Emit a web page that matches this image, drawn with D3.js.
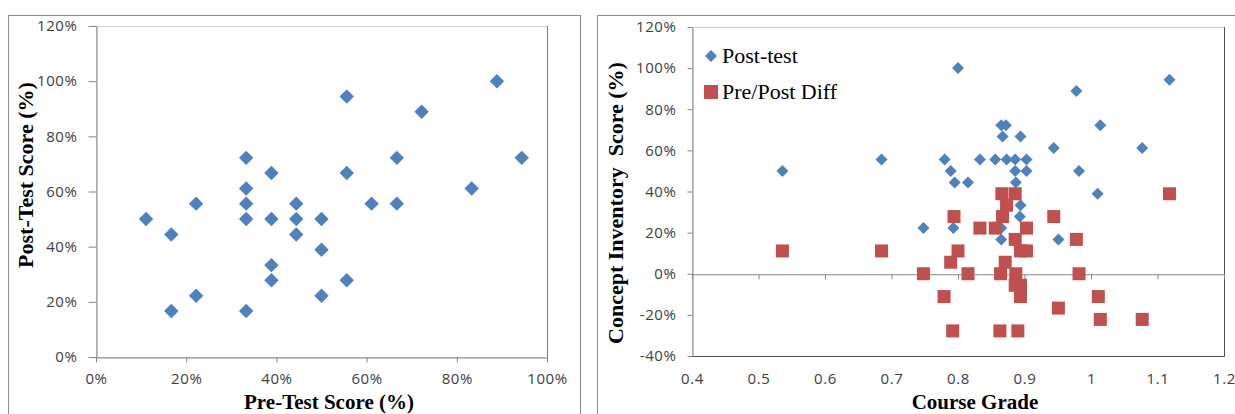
<!DOCTYPE html>
<html>
<head>
<meta charset="utf-8">
<script src="https://cdn.jsdelivr.net/npm/d3@7"></script>
<style>
  body { margin: 0; background: #fff; }
  .tick text { font-family: "Open Sans", sans-serif; font-size: 15px; letter-spacing: 0.6px; fill: #404040; }
  .axis path, .axis line { stroke: #868686; }
  .title { font-family: "Liberation Serif", "Times New Roman", serif; font-weight: bold; font-size: 22px; fill: #000; }
  .xtitle { font-size: 21px; }
  .legend { font-family: "Liberation Serif", "Times New Roman", serif; font-size: 22px; fill: #000; }
</style>
</head>
<body>
<svg id="chart" width="1235" height="414"></svg>
<script>
// left chart: pre-test vs post-test (%)
const preScore  = [11.1, 16.7, 16.7, 22.2, 22.2, 33.3, 33.3, 33.3, 33.3, 33.3, 38.9, 38.9, 38.9, 38.9, 44.4,
                   44.4, 44.4, 50, 50, 50, 55.6, 55.6, 55.6, 61.1, 66.7, 66.7, 72.2, 83.3, 88.9, 94.4];
const postScore = [50, 44.4, 16.7, 55.6, 22.2, 72.2, 61.1, 55.6, 50, 16.7, 66.7, 50, 33.3, 27.8, 55.6,
                   50, 44.4, 50, 38.9, 22.2, 94.4, 66.7, 27.8, 55.6, 72.2, 55.6, 88.9, 61.1, 100, 72.2];

// right chart: course grade vs post-test (%)
const gradePost = [0.536, 0.685, 0.748, 0.780, 0.789, 0.795, 0.793, 0.800, 0.815, 0.833, 0.856, 0.865, 0.872,
                   0.867, 0.873, 0.865, 0.865, 0.886, 0.886, 0.887, 0.894, 0.894, 0.893, 0.903, 0.903, 0.944,
                   0.951, 0.978, 0.982, 1.014, 1.010, 1.077, 1.118];
const postTest  = [50, 55.6, 22.2, 55.6, 50, 44.4, 22.2, 100, 44.4, 55.6, 55.6, 72.2, 72.2,
                   66.7, 55.6, 22.2, 16.7, 55.6, 50, 44.4, 66.7, 33.3, 27.8, 55.6, 50, 61.1,
                   16.7, 88.9, 50, 72.2, 38.9, 61.1, 94.4];

// right chart: course grade vs pre/post difference (%)
const gradeDiff = [0.536, 0.685, 0.748, 0.779, 0.789, 0.794, 0.792, 0.800, 0.815, 0.833, 0.856, 0.864, 0.863,
                   0.867, 0.871, 0.866, 0.886, 0.873, 0.886, 0.887, 0.886, 0.894, 0.894, 0.890, 0.894, 0.903,
                   0.903, 0.944, 0.951, 0.978, 0.982, 1.011, 1.014, 1.077, 1.118];
const prePostDiff = [11.1, 11.1, 0, -11.1, 5.6, 27.8, -27.8, 11.1, 0, 22.2, 22.2, 0, -27.8,
                     27.8, 5.6, 38.9, 38.9, 33.3, 16.7, 0, -5.6, -5.6, -11.1, -27.8, 11.1, 11.1,
                     22.2, 27.8, -16.7, 16.7, 0, -11.1, -22.2, -22.2, 38.9];

const pctTicksLeft  = [0, 20, 40, 60, 80, 100, 120];
const pctTicksX     = [0, 20, 40, 60, 80, 100];
const pctTicksRight = [-40, -20, 0, 20, 40, 60, 80, 100, 120];
const gradeTicks    = [0.4, 0.5, 0.6, 0.7, 0.8, 0.9, 1.0, 1.1, 1.2];
const legendNames   = ["Post-test", "Pre/Post Diff"];

const blue = "#4F81BD", red = "#C0504D";
const svg = d3.select("#chart");
const pct = d => d + "%";
const diamond = size => d3.symbol(d3.symbolSquare, size)();

// outer chart frames
svg.append("rect").attr("x", 8.5).attr("y", 15.5).attr("width", 572).attr("height", 420)
  .attr("fill", "none").attr("stroke", "#8a8a8a");
svg.append("rect").attr("x", 597.5).attr("y", 15.5).attr("width", 700).attr("height", 420)
  .attr("fill", "none").attr("stroke", "#8a8a8a");

// ---------- left chart ----------
const L = { x0: 96, x1: 547, y0: 26, y1: 357 };
const xL = d3.scaleLinear().domain([0, 100]).range([L.x0, L.x1]);
const yL = d3.scaleLinear().domain([0, 120]).range([L.y1, L.y0]);

svg.append("rect").attr("x", L.x0 + 0.5).attr("y", L.y0 + 0.5)
  .attr("width", L.x1 - L.x0).attr("height", L.y1 - L.y0)
  .attr("fill", "none").attr("stroke", "#d0d0d0");
svg.append("line").attr("x1", L.x1 + 0.5).attr("x2", L.x1 + 0.5).attr("y1", L.y0).attr("y2", L.y1)
  .attr("stroke", "#7a7a7a");

svg.append("g").attr("class", "axis").attr("transform", `translate(${L.x0 + 0.5},0)`)
  .call(d3.axisLeft(yL).tickValues(pctTicksLeft).tickFormat(pct).tickSize(8).tickPadding(11).tickSizeOuter(0));
svg.append("g").attr("class", "axis").attr("transform", `translate(0,${L.y1 + 0.5})`)
  .call(d3.axisBottom(xL).tickValues(pctTicksX).tickFormat(pct).tickSize(5).tickPadding(11).tickSizeOuter(0));

svg.append("g").selectAll("path")
  .data(preScore.map((p, i) => [p, postScore[i]]))
  .join("path")
  .attr("d", diamond(104))
  .attr("transform", d => `translate(${xL(d[0])},${yL(d[1])}) rotate(45)`)
  .attr("fill", blue);

svg.append("text").attr("class", "title xtitle").attr("x", 329).attr("y", 409)
  .attr("text-anchor", "middle").text("Pre-Test Score (%)");
svg.append("text").attr("class", "title").attr("transform", "translate(25,175) rotate(-90)")
  .attr("text-anchor", "middle").attr("dominant-baseline", "central").text("Post-Test Score (%)");

// ---------- right chart ----------
const R = { x0: 692, x1: 1224, y0: 27, y1: 356 };
const xR = d3.scaleLinear().domain([0.4, 1.2]).range([R.x0, R.x1]);
const yR = d3.scaleLinear().domain([-40, 120]).range([R.y1, R.y0]);

svg.append("rect").attr("x", R.x0 + 0.5).attr("y", R.y0 + 0.5)
  .attr("width", R.x1 - R.x0).attr("height", R.y1 - R.y0)
  .attr("fill", "none").attr("stroke", "#d0d0d0");
svg.append("path")
  .attr("d", `M${R.x0},${R.y1 + 0.5}H${R.x1 + 0.5}V${R.y0}`)
  .attr("fill", "none").attr("stroke", "#505050");

svg.append("g").attr("class", "axis").attr("transform", `translate(${R.x0 + 0.5},0)`)
  .call(d3.axisLeft(yR).tickValues(pctTicksRight).tickFormat(pct).tickSize(5).tickPadding(11).tickSizeOuter(0));

// axis line crosses at 0%, labels sit low at the bottom
svg.append("g").attr("class", "axis").attr("transform", `translate(0,${yR(0) + 0.5})`)
  .call(d3.axisBottom(xR).tickValues(gradeTicks).tickFormat("").tickSize(5).tickSizeOuter(0));
const xLabels = svg.append("g").attr("class", "axis").attr("transform", `translate(0,${R.y1})`)
  .call(d3.axisBottom(xR).tickValues(gradeTicks).tickFormat(d => String(+d.toFixed(1))).tickSize(0).tickPadding(17));
xLabels.select(".domain").remove();

svg.append("g").selectAll("path")
  .data(gradePost.map((g, i) => [g, postTest[i]]))
  .join("path")
  .attr("d", diamond(72))
  .attr("transform", d => `translate(${xR(d[0])},${yR(d[1])}) rotate(45)`)
  .attr("fill", blue);

svg.append("g").selectAll("path")
  .data(gradeDiff.map((g, i) => [g, prePostDiff[i]]))
  .join("path")
  .attr("d", diamond(169))
  .attr("transform", d => `translate(${xR(d[0])},${yR(d[1])})`)
  .attr("fill", red);

// legend
const lg = svg.append("g");
lg.append("path").attr("d", diamond(72)).attr("transform", "translate(711,56) rotate(45)").attr("fill", blue);
lg.append("path").attr("d", diamond(196)).attr("transform", "translate(711,92)").attr("fill", red);
lg.append("text").attr("class", "legend").attr("x", 722).attr("y", 63).text(legendNames[0]);
lg.append("text").attr("class", "legend").attr("x", 722).attr("y", 99).text(legendNames[1]);

svg.append("text").attr("class", "title xtitle").attr("x", 975).attr("y", 409)
  .attr("text-anchor", "middle").text("Course Grade");
svg.append("text").attr("class", "title").attr("transform", "translate(615,203) rotate(-90)")
  .attr("text-anchor", "middle").attr("dominant-baseline", "central")
  .style("white-space", "pre").text("Concept Inventory  Score (%)");
</script>
</body>
</html>
